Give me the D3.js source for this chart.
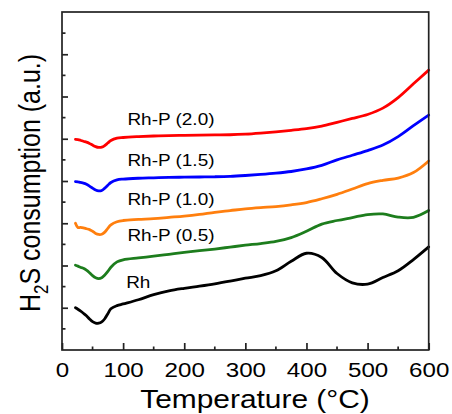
<!DOCTYPE html>
<html>
<head>
<meta charset="utf-8">
<script src="https://cdn.jsdelivr.net/npm/d3@7"></script>
<style>
  html, body { margin: 0; padding: 0; background: #fff; }
  svg { display: block; }
  text { font-family: "Liberation Sans", Arial, sans-serif; fill: #000; }
</style>
</head>
<body>
<svg id="chart" width="452" height="414"></svg>
<script>
// ---- Data ----
const temperatures = [22,26,30,35,40,45,50,55,60,65,70,75,80,90,100,125,150,175,200,225,250,275,300,325,350,375,400,425,450,475,500,525,550,575,600];

const rhP20 = [9.97,9.96,9.93,9.88,9.84,9.78,9.70,9.63,9.59,9.60,9.68,9.80,9.92,10.03,10.06,10.10,10.13,10.15,10.16,10.17,10.18,10.19,10.22,10.27,10.33,10.40,10.48,10.60,10.78,10.96,11.15,11.45,11.95,12.60,13.25];
const rhP15 = [7.97,7.96,7.93,7.90,7.85,7.76,7.66,7.57,7.53,7.55,7.66,7.80,7.93,8.05,8.09,8.13,8.15,8.17,8.18,8.19,8.20,8.22,8.26,8.31,8.37,8.45,8.57,8.74,9.00,9.22,9.44,9.70,10.10,10.62,11.12];
const rhP10 = [6.00,5.80,5.80,5.78,5.74,5.70,5.62,5.52,5.47,5.48,5.58,5.76,5.92,6.07,6.13,6.18,6.22,6.28,6.34,6.42,6.52,6.60,6.68,6.74,6.79,6.87,6.98,7.16,7.37,7.62,7.88,8.03,8.14,8.40,8.95];
const rhP05 = [4.01,3.97,3.92,3.87,3.78,3.66,3.52,3.42,3.38,3.42,3.55,3.72,3.92,4.17,4.27,4.36,4.44,4.53,4.62,4.70,4.78,4.87,4.96,5.04,5.14,5.32,5.62,5.96,6.13,6.27,6.41,6.44,6.29,6.28,6.60];
const rh    = [2.00,1.93,1.85,1.74,1.62,1.47,1.34,1.27,1.27,1.33,1.48,1.72,1.95,2.10,2.18,2.38,2.62,2.80,2.92,3.02,3.13,3.26,3.40,3.52,3.75,4.20,4.58,4.38,3.62,3.18,3.12,3.43,3.75,4.28,4.88];

const seriesNames  = ["Rh-P (2.0)","Rh-P (1.5)","Rh-P (1.0)","Rh-P (0.5)","Rh"];
const seriesColors = ["#ff0000","#0000ff","#ff7f0e","#1d7d1d","#000000"];
const seriesValues = [rhP20, rhP15, rhP10, rhP05, rh];
// label anchor positions in data units (temperature, value)
const labelT = [107,107,107,107,105];
const labelV = [10.65,8.70,6.85,5.15,2.95];

const xTicksMajor = [0,100,200,300,400,500,600];
const xTicksMinor = [50,150,250,350,450,550];
const yTicksMajor = [2,4,6,8,10,12,14];
const yTicksMinor = [1,3,5,7,9,11,13,15];

// ---- Layout ----
const svg = d3.select("#chart");
const L = 62, R = 428.7, T = 12, B = 350;
const x = d3.scaleLinear().domain([0,600]).range([L,R]);
const y = d3.scaleLinear().domain([0,16]).range([B,T]);
const SX = 1.15; // horizontal stretch of the reference text

// curves
const line = d3.line()
  .x(d=>x(d[0])).y(d=>y(d[1]))
  .curve(d3.curveCatmullRom.alpha(0.5));

seriesValues.forEach((vals, k) => {
  const pts = temperatures.map((t,i)=>[t, vals[i]]);
  svg.append("path")
    .attr("d", line(pts))
    .attr("fill","none")
    .attr("stroke", seriesColors[k])
    .attr("stroke-width", 2.8)
    .attr("stroke-linejoin","round")
    .attr("stroke-linecap","round");
});

// frame
const axisColor = "#222";
svg.append("rect")
  .attr("x", L).attr("y", T).attr("width", R-L).attr("height", B-T)
  .attr("fill","none").attr("stroke", axisColor).attr("stroke-width", 1.7);

// x axis ticks (inward)
const xAxis = d3.axisBottom(x).tickValues(xTicksMajor).tickSizeInner(-7).tickSizeOuter(0).tickFormat(d3.format("d"));
const gx = svg.append("g").attr("transform", `translate(0,${B})`).call(xAxis);
gx.select(".domain").remove();
gx.selectAll(".tick line").attr("stroke", axisColor).attr("stroke-width", 1.7);
gx.selectAll(".tick text")
  .attr("font-size", 21).attr("font-family","Liberation Sans, Arial, sans-serif")
  .attr("fill","#000")
  .attr("y", null).attr("dy", null)
  .attr("transform", `translate(0,27) scale(${SX},1)`);
svg.append("g").selectAll("line").data(xTicksMinor).join("line")
  .attr("x1", d=>x(d)).attr("x2", d=>x(d)).attr("y1", B).attr("y2", B-3.5)
  .attr("stroke", axisColor).attr("stroke-width", 1.7);

// y axis ticks (inward, no labels)
const yAxis = d3.axisLeft(y).tickValues(yTicksMajor).tickSizeInner(-6).tickSizeOuter(0).tickFormat("");
const gy = svg.append("g").attr("transform", `translate(${L},0)`).call(yAxis);
gy.select(".domain").remove();
gy.selectAll(".tick line").attr("stroke", axisColor).attr("stroke-width", 1.7);
svg.append("g").selectAll("line").data(yTicksMinor).join("line")
  .attr("x1", L).attr("x2", L+3.5).attr("y1", d=>y(d)).attr("y2", d=>y(d))
  .attr("stroke", axisColor).attr("stroke-width", 1.7);

// series labels
seriesNames.forEach((name,k) => {
  svg.append("text")
    .attr("transform", `translate(${x(labelT[k])},${y(labelV[k])}) scale(${SX},1)`)
    .attr("font-size", 16.5)
    .text(name);
});

// x axis title
svg.append("text")
  .attr("transform", `translate(255,408) scale(${SX},1)`)
  .attr("text-anchor","middle")
  .attr("font-size", 26)
  .text("Temperature (\u00B0C)");

// y axis title
const yt = svg.append("text")
  .attr("transform", `translate(40,183) scale(${SX},1) rotate(-90)`)
  .attr("text-anchor","middle")
  .attr("font-size", 25);
yt.append("tspan").text("H");
yt.append("tspan").attr("font-size", 17).attr("dy", 7).text("2");
yt.append("tspan").attr("dy", -7).text("S consumption (a.u.)");
</script>
</body>
</html>
